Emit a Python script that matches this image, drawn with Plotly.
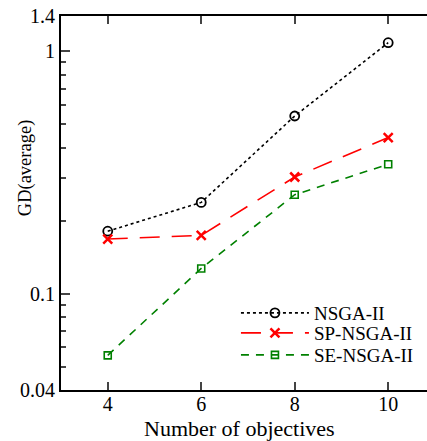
import math
import plotly.graph_objects as go

objectives = [4, 6, 8, 10]
nsga2 = [0.181, 0.238, 0.541, 1.086]
sp_nsga2 = [0.168, 0.174, 0.303, 0.441]
se_nsga2 = [0.0556, 0.127, 0.256, 0.342]

y_tickvals = [0.04, 0.1, 1, 1.4]
y_ticktext = ["0.04", "0.1", "1", "1.4"]
y_minor = [0.05, 0.06, 0.07, 0.08, 0.09, 0.2, 0.3, 0.4, 0.5, 0.6, 0.7, 0.8, 0.9]
x_tickvals = [4, 6, 8, 10]

FONT = "Liberation Serif"

fig = go.Figure()
fig.add_trace(go.Scatter(
    x=objectives, y=nsga2, name="NSGA-II", mode="lines+markers", legend="legend",
    line=dict(color="black", width=1.6, dash="dot"),
    marker=dict(symbol="circle-open", size=9, color="black", line=dict(width=1.8))))
fig.add_trace(go.Scatter(
    x=objectives, y=sp_nsga2, name="SP-NSGA-II", mode="lines+markers", legend="legend2",
    line=dict(color="#ff0000", width=1.6, dash="20px,12px"),
    marker=dict(symbol="x-thin-open", size=9, color="#ff0000", line=dict(width=2.5, color="#ff0000"))))
fig.add_trace(go.Scatter(
    x=objectives, y=se_nsga2, name="SE-NSGA-II", mode="lines+markers", legend="legend3",
    line=dict(color="#008000", width=1.6, dash="8px,7px"),
    marker=dict(symbol="square-open", size=7, color="#008000", line=dict(width=1.6))))

def leg(ycenter):
    return dict(x=0.478, y=(390 - ycenter) / 374, xanchor="left", yanchor="middle",
                bgcolor="rgba(0,0,0,0)", font=dict(family=FONT, size=19),
                itemwidth=68)

fig.update_layout(
    width=427, height=441,
    margin=dict(l=61, r=0, t=16, b=51),
    paper_bgcolor="white", plot_bgcolor="white",
    font=dict(family=FONT, size=20, color="black"),
    showlegend=True,
    legend=leg(313), legend2=leg(333), legend3=leg(355),
    xaxis=dict(range=[3, 10.83], tickvals=x_tickvals, ticks="inside", ticklen=8,
               tickwidth=1.5, showline=True, linewidth=2, linecolor="black",
               mirror="ticks", showgrid=False, zeroline=False, ticklabelstandoff=-5,
               tickfont=dict(family=FONT, size=20)),
    yaxis=dict(type="log", range=[math.log10(0.04), math.log10(1.4)],
               tickvals=y_tickvals, ticktext=y_ticktext, ticks="inside", ticklen=9,
               tickwidth=1.5, showline=True, linewidth=2, linecolor="black",
               showgrid=False, zeroline=False, ticklabelstandoff=0,
               tickfont=dict(family=FONT, size=20),
               minor=dict(tickvals=y_minor, ticks="inside", ticklen=5, tickwidth=1.5,
                          showgrid=False)),
    annotations=[
        dict(text="GD(average)", xref="paper", yref="paper", x=-0.095, y=(390 - 168) / 374,
             xanchor="center", yanchor="middle", textangle=-90, showarrow=False,
             font=dict(family=FONT, size=18.5)),
        dict(text="Number of objectives", xref="paper", yref="paper", x=0.488, y=-0.102,
             xanchor="center", yanchor="middle", showarrow=False,
             font=dict(family=FONT, size=22)),
    ],
)

fig.write_html("out.html")
